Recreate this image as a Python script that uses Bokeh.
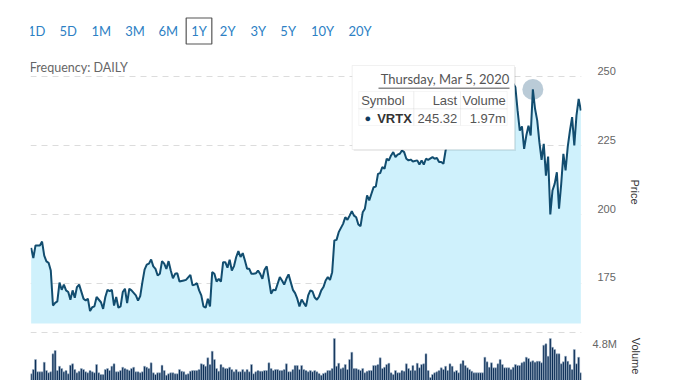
from bokeh.plotting import figure
from bokeh.models import (Range1d, LinearAxis, FixedTicker, Label, BoxAnnotation,
                          ColumnDataSource, Grid)
from bokeh.layouts import column
from bokeh.embed import file_html
from bokeh.resources import INLINE

# ---------------- data ----------------
# trading-day index (0 = first day of the 1Y window) and closing price
days = [0, 1, 2, 4, 5, 6, 7, 8, 9, 10, 11, 12, 13, 14, 15, 16, 17, 18, 19, 20,
        21, 22, 24, 25, 26, 27, 28, 29, 30, 32, 33, 34, 35, 36, 37, 38, 39, 40, 41, 42,
        43, 44, 45, 46, 48, 49, 50, 51, 52, 53, 54, 55, 56, 57, 58, 59, 60, 61, 62, 63,
        64, 65, 66, 67, 68, 70, 71, 73, 74, 75, 76, 77, 78, 79, 80, 81, 82, 83, 84, 85,
        86, 87, 88, 89, 90, 91, 92, 93, 94, 95, 96, 97, 98, 99, 100, 101, 102, 103, 104, 105,
        106, 107, 108, 109, 110, 111, 112, 113, 114, 115, 116, 117, 118, 119, 120, 121, 122, 123, 124, 125,
        126, 127, 128, 129, 130, 131, 132, 133, 134, 135, 136, 137, 138, 139, 140, 141, 143, 144, 145, 146,
        147, 148, 149, 150, 151, 152, 153, 154, 155, 156, 157, 158, 159, 160, 161, 162, 163, 164, 165, 166,
        167, 168, 169, 170, 171, 172, 173, 174, 175, 177, 178, 179, 180, 181, 182, 184, 185, 186, 187, 188,
        189, 190, 191, 192, 193, 194, 195, 196, 197, 198, 199, 200, 201, 202, 203, 204, 205, 206, 207, 208,
        209, 210, 211, 212, 213, 214, 215, 216, 217, 218, 219, 220, 221, 222, 223, 224, 225, 226, 227, 228,
        229, 230, 231, 232, 233, 234, 235, 236, 237, 238, 239, 240, 241, 242, 243, 244, 245, 246, 247, 248,
        249, 250, 251, 252]
prices = [187.9, 184.2, 188.8, 188.8, 190.2, 185.1, 183.0, 182.5, 179.7, 167.0, 168.0, 168.5, 175.3, 172.7, 174.6, 172.5, 171.9, 169.1, 172.5, 169.8,
          173.7, 174.6, 169.5, 168.8, 169.5, 165.0, 166.4, 166.7, 170.1, 168.2, 165.8, 170.1, 172.7, 172.2, 172.7, 167.0, 170.1, 166.2, 166.7, 171.9,
          173.1, 167.9, 173.1, 172.5, 170.7, 168.8, 170.4, 175.5, 180.0, 181.8, 182.2, 183.7, 181.2, 180.3, 177.9, 178.5, 183.1, 182.2, 180.3, 183.1,
          179.7, 176.9, 178.5, 178.7, 175.7, 176.1, 176.3, 178.1, 174.3, 174.6, 175.1, 172.5, 170.7, 166.7, 166.2, 169.5, 166.7, 179.1, 178.5, 175.7,
          176.7, 175.7, 182.7, 182.7, 180.7, 183.6, 179.7, 181.3, 184.6, 186.7, 184.6, 186.0, 183.3, 180.3, 180.3, 178.5, 178.5, 178.7, 179.7, 178.5,
          176.7, 180.0, 181.2, 176.3, 171.3, 172.7, 172.5, 174.9, 177.3, 176.1, 174.6, 176.7, 178.3, 175.5, 172.7, 171.5, 169.5, 166.7, 169.2, 167.9,
          166.7, 170.7, 172.5, 172.1, 169.9, 169.1, 170.3, 172.5, 173.7, 176.1, 177.3, 176.3, 179.1, 190.6, 190.8, 193.6, 196.6, 199.0, 198.1, 199.6,
          201.2, 199.6, 199.0, 196.4, 195.8, 200.8, 202.1, 206.9, 205.1, 207.5, 209.9, 210.1, 214.7, 215.0, 217.2, 216.6, 220.2, 219.6, 221.4, 222.6,
          220.8, 221.7, 222.0, 223.2, 222.6, 220.2, 219.6, 219.9, 219.2, 219.6, 218.1, 219.6, 218.1, 220.2, 219.8, 220.8, 220.2, 220.5, 219.0, 219.0,
          218.4, 223.2, 226.5, 229.0, 231.5, 230.0, 233.0, 232.0, 229.5, 228.0, 230.5, 227.5, 226.0, 228.5, 231.0, 229.0, 227.0, 230.0, 234.0, 236.5,
          235.0, 238.0, 240.5, 239.0, 242.0, 241.0, 244.0, 242.5, 245.5, 244.5, 247.0, 248.5, 247.5, 246.1, 237.7, 230.4, 231.9, 223.8, 228.6, 232.2,
          228.6, 245.32, 238.3, 234.1, 226.2, 219.8, 225.6, 214.1, 221.0, 200.0, 208.7, 211.1, 215.3, 202.1, 211.1, 222.0, 216.0, 224.6, 230.4, 235.3,
          225.0, 235.9, 241.9, 237.7]

# daily volume, millions of shares, one bar per trading day
volumes_m = [0.67, 1.1, 2.1, 0.87, 0.87, 0.87, 1.83, 1.0, 0.77, 0.87,
             2.67, 3.0, 1.0, 1.43, 1.2, 0.87, 1.0, 0.67, 1.53, 1.67,
             1.1, 0.77, 0.93, 1.2, 1.1, 0.87, 0.77, 1.0, 0.87, 0.77,
             1.6, 0.77, 0.6, 0.6, 1.1, 1.2, 1.0, 1.43, 1.67, 0.87,
             0.87, 1.0, 1.33, 1.2, 1.1, 1.0, 1.2, 1.33, 0.87, 0.87,
             0.77, 0.87, 1.43, 1.33, 1.2, 1.77, 0.77, 0.6, 0.77, 0.77,
             1.53, 1.0, 0.53, 0.67, 0.77, 0.77, 0.67, 0.67, 1.1, 0.93,
             0.87, 0.6, 0.67, 0.93, 1.0, 1.0, 1.0, 1.1, 1.67, 1.6,
             1.43, 2.27, 1.6, 2.93, 2.1, 1.2, 0.93, 1.6, 1.33, 1.2,
             1.2, 1.33, 1.1, 0.87, 1.1, 0.87, 0.87, 1.1, 0.87, 1.1,
             0.87, 1.6, 0.67, 0.87, 1.0, 0.93, 0.93, 1.0, 1.0, 1.77,
             1.2, 1.0, 1.1, 1.1, 1.0, 1.0, 1.1, 1.67, 0.87, 0.87,
             1.1, 1.5, 1.5, 1.1, 1.5, 1.1, 1.0, 0.87, 1.0, 0.87,
             1.0, 0.87,
             0.7, 0.53, 0.7, 0.77, 1.0, 1.0, 1.2, 4.2, 1.43, 1.73,
             1.17, 1.27, 1.6, 1.1, 2.1, 2.83, 1.2, 1.2, 1.1, 1.0,
             1.2, 0.77, 0.93, 1.0, 1.0, 1.5, 1.5, 1.6, 2.27, 1.2,
             1.33, 1.6, 1.73, 0.77, 0.6, 1.0, 0.77, 0.77, 1.0, 0.93,
             1.67, 1.2, 1.0, 1.5, 1.0, 1.73, 1.27, 1.6, 1.67, 2.67,
             1.0, 0.3, 0.6, 0.77, 0.87, 1.0, 1.27, 1.1, 1.43, 1.0,
             1.67, 1.43, 0.87, 1.0, 0.77, 1.67, 2.0, 1.5, 1.27, 1.1,
             0.93, 0.77, 0.77, 0.77, 0.77, 0.77, 2.33, 1.87, 1.33, 1.77,
             1.27, 1.27, 1.67, 2.1, 1.6, 1.27, 1.27, 1.27, 1.1, 1.33,
             1.6, 1.5, 1.5, 1.77, 1.87, 2.33, 2.2, 1.87, 1.97, 1.83,
             1.93, 1.93, 1.77, 3.53, 3.67, 2.43, 4.2, 3.33, 3.1, 2.67,
             2.67, 1.67, 1.87, 2.43, 1.93, 1.6, 1.1, 3.1, 1.67, 2.33,
             0.77]
vol_days = list(range(len(volumes_m)))

price_ticks = [175, 200, 225, 250]
volume_ticks = [4.8]
volume_tick_labels = {4.8: "4.8M"}
range_buttons = ["1D", "5D", "1M", "3M", "6M", "1Y", "2Y", "3Y", "5Y", "10Y", "20Y"]
selected_button = "1Y"
frequency_text = "Frequency: DAILY"
hover_day = 230
hover_date = "Thursday, Mar 5, 2020"
hover_symbol = "VRTX"
hover_last = 245.32
hover_volume = "1.97m"

# ---------------- styles ----------------
LINE = "#124d6f"
AREA = "#cff1fc"
BAR = "#0b2d55"
BAR_EDGE = "#a9bdd0"
GRID = "#dcdcdc"
BLUE = "#2d7fc4"
GREY = "#555555"

W = 678
FRAME_L = 30      # page x of the plot frames' left edge (column aligns all frames)
FRAME_R = 581


def clean(fig):
    fig.outline_line_color = None
    fig.background_fill_color = "white"
    fig.border_fill_color = "white"
    fig.center = [r for r in fig.center if not isinstance(r, Grid)]


# ---- top strip with the range buttons (page y 0..55) ----
TOP_H = 55
top = figure(width=W, height=TOP_H, output_backend="svg", toolbar_location=None, tools="",
             x_range=Range1d(0, 1), y_range=Range1d(0, 1),
             x_axis_location=None, y_axis_location=None,
             min_border_left=FRAME_L, min_border_right=W - FRAME_R, min_border_top=0,
             min_border_bottom=0)
clean(top)
btn_x = [36.2, 67.7, 100.8, 134.5, 167.8, 198.5, 227.2, 257.8, 287.7, 322, 359.5]
for lab, bx in zip(range_buttons, btn_x):
    kw = {}
    if lab == selected_button:
        kw = dict(border_line_color="#555555", border_line_width=1.2,
                  background_fill_color="white", padding=5)
    top.add_layout(Label(x=bx - FRAME_L, y=TOP_H - 30.5, x_units="screen", y_units="screen",
                         text=lab, text_align="center", text_baseline="middle", text_font="Lato",
                         text_font_size="13px", text_color=BLUE, **kw))

# ---- price pane: frame at page x 30..581, y 60..323 ----
P_TOP = TOP_H
p = figure(width=W, height=323 - P_TOP + 4, output_backend="svg", toolbar_location=None, tools="",
           x_range=Range1d(-0.3, 252.3), y_range=Range1d(160.5, 255.8),
           x_axis_location=None, y_axis_location=None,
           min_border_left=FRAME_L, min_border_right=W - FRAME_R, min_border_top=60 - P_TOP,
           min_border_bottom=4)
clean(p)
p.add_layout(Grid(dimension=1, ticker=FixedTicker(ticks=price_ticks),
                  grid_line_color=GRID, grid_line_dash="6 5", grid_line_width=1))

p.extra_y_ranges = {"lbl": Range1d(160.5 - 2.17, 255.8 - 2.17)}
pax = LinearAxis(y_range_name="lbl", ticker=FixedTicker(ticks=price_ticks),
                 axis_label="Price", axis_line_color=None, major_tick_line_color=None,
                 minor_tick_line_color=None, major_tick_out=0, major_tick_in=0,
                 major_label_standoff=16, major_label_text_color="#666666",
                 major_label_text_font="Liberation Sans", major_label_text_font_size="11px",
                 axis_label_text_font="Liberation Sans", axis_label_text_font_size="11px",
                 axis_label_text_font_style="normal", axis_label_text_color="#333333",
                 axis_label_standoff=10)
p.add_layout(pax, "right")

src = ColumnDataSource(dict(day=days, price=prices))
p.varea(x="day", y1=150, y2="price", source=src, fill_color=AREA)
p.scatter([hover_day], [hover_last], size=21, fill_color="#9db5c6", fill_alpha=0.7, line_color=None)
p.line(x="day", y="price", source=src, line_color=LINE, line_width=2)


# screen helpers relative to the price frame (left=30, bottom=323 in page px)
def sx(px):
    return px - FRAME_L


def sy(py):
    return 323 - py


def box(l, r, t, b, **kw):
    p.add_layout(BoxAnnotation(left=sx(l), right=sx(r), top=sy(t), bottom=sy(b),
                               left_units="screen", right_units="screen", top_units="screen",
                               bottom_units="screen", **kw))


p.add_layout(Label(x=sx(29.3), y=sy(66.7), x_units="screen", y_units="screen", text=frequency_text,
                   text_align="left", text_baseline="middle", text_font="Lato",
                   text_font_size="12.5px", text_color="#666666"))

# tooltip
box(353.2, 515.5, 66.5, 150.5, fill_color="black", fill_alpha=0.08, line_color=None)
box(351.7, 514, 65, 149, fill_color="white", fill_alpha=1.0, line_color="#cfcfcf", line_width=1)
p.add_layout(Label(x=sx(509), y=sy(78), x_units="screen", y_units="screen", text=hover_date,
                   text_align="right", text_baseline="middle", text_font="Lato",
                   text_font_size="13px", text_color=GREY))
box(378, 509, 87, 88.6, fill_color="#8a8a8a", fill_alpha=1.0, line_color=None)
cols = [358.3, 413.3, 460, 506.7]
rows = [91, 108.3, 125]
for r in range(2):
    for c in range(3):
        box(cols[c], cols[c + 1], rows[r], rows[r + 1], fill_alpha=0,
            line_color="#e2e2e2", line_width=1)


def tlabel(text, x, y, align, color=GREY, style="normal", size="13px"):
    p.add_layout(Label(x=sx(x), y=sy(y), x_units="screen", y_units="screen", text=text,
                       text_align=align, text_baseline="middle", text_font="Liberation Sans",
                       text_font_size=size, text_color=color, text_font_style=style))


tlabel("Symbol", 360.7, 99.5, "left")
tlabel("Last", 456.7, 99.5, "right")
tlabel("Volume", 505.3, 99.5, "right")
tlabel("\u25cf", 367.3, 117.5, "center", color="#0e3a5e", size="11px")
tlabel(hover_symbol, 376.7, 117.5, "left", color="#333333", style="bold")
tlabel(f"{hover_last:.2f}", 456.7, 117.5, "right")
tlabel(hover_volume, 505.3, 117.5, "right")

# ---- volume pane: frame at page y 331..380, 0.1M per px ----
V_TOP = 327
v = figure(width=W, height=380 - V_TOP, output_backend="svg", toolbar_location=None, tools="",
           x_range=p.x_range, y_range=Range1d(0.0, 4.9),
           x_axis_location=None, y_axis_location=None,
           min_border_left=FRAME_L, min_border_right=W - FRAME_R, min_border_top=331 - V_TOP,
           min_border_bottom=0)
clean(v)
v.add_layout(Grid(dimension=1, ticker=FixedTicker(ticks=volume_ticks),
                  grid_line_color=GRID, grid_line_dash="6 5", grid_line_width=1))
v.extra_y_ranges = {"vlbl": Range1d(0.0 + 1.1, 4.9 + 1.1)}
vax = LinearAxis(y_range_name="vlbl", ticker=FixedTicker(ticks=volume_ticks),
                 major_label_overrides=volume_tick_labels,
                 axis_label="Volume", axis_line_color=None, major_tick_line_color=None,
                 minor_tick_line_color=None, major_tick_out=0, major_tick_in=0,
                 major_label_standoff=11, major_label_text_color="#666666",
                 major_label_text_font="Liberation Sans", major_label_text_font_size="11px",
                 axis_label_text_font="Liberation Sans", axis_label_text_font_size="11px",
                 axis_label_text_font_style="normal", axis_label_text_color="#333333",
                 axis_label_standoff=10)
v.add_layout(vax, "right")
v.vbar(x=vol_days, top=volumes_m, bottom=0, width=0.9, fill_color=BAR,
       line_color=BAR_EDGE, line_width=0.5)

layout = column(top, p, v, spacing=0)
open("out.html", "w").write(file_html(layout, INLINE))
